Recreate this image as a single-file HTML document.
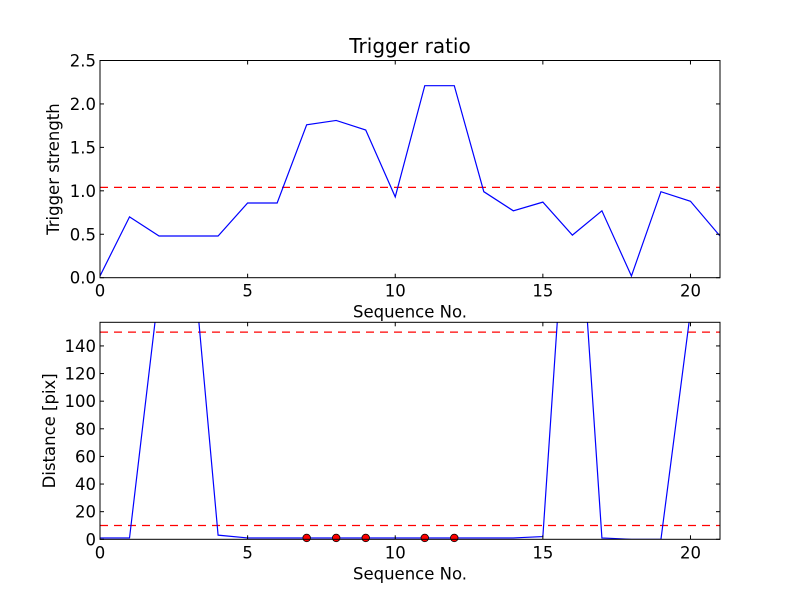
<!DOCTYPE html>
<html><head><meta charset="utf-8"><style>
body{margin:0;background:#fff}
svg text{font-family:"DejaVu Sans","Liberation Sans",sans-serif;font-size:16.5px;fill:#000}
</style></head><body>
<svg id="c" width="800" height="600" xmlns="http://www.w3.org/2000/svg"></svg>
<script>
const seq = [0,1,2,3,4,5,6,7,8,9,10,11,12,13,14,15,16,17,18,19,20,21];
const strength = [0.02,0.70,0.48,0.48,0.48,0.86,0.86,1.76,1.81,1.70,0.93,2.21,2.21,0.99,0.77,0.87,0.49,0.77,0.02,0.99,0.88,0.48];
const strengthThreshold = 1.04;
const distance = [1,1,182,240,3,1,1,1,1,1,1,1,1,1,1,2,320,1,0,0,165,165];
const distThresholds = [150,10];
const markerSeq = [7,8,9,11,12];
const markerVals = [1,1,1,1,1];
const xTicks = [0,5,10,15,20];
const yTicksTop = [0.0,0.5,1.0,1.5,2.0,2.5];
const yTicksBot = [0,20,40,60,80,100,120,140];

const NS="http://www.w3.org/2000/svg";
const svg=document.getElementById('c');
function mk(tag,attrs,parent){const e=document.createElementNS(NS,tag);for(const k in attrs)e.setAttribute(k,attrs[k]);(parent||svg).appendChild(e);return e;}
const L=100,R=720;
const xs=v=>L+(v-0)/(21-0)*(R-L);

function panel(top,bot,ymax,name){
  const ys=v=>bot-v/ymax*(bot-top);
  const g=mk('g',{});
  
  
  const cid='clip-'+name;
  const cp=mk('clipPath',{id:cid},g);mk('rect',{x:L,y:top,width:R-L,height:bot-top},cp);
  return {g,ys,cid,top,bot};
}
function axesFrame(p,yt,fmt,ylabel,ylabName){
  const {g,ys,top,bot}=p;
  const fr=mk('rect',{x:L,y:top,width:R-L,height:bot-top,fill:'none',stroke:'#000','stroke-width':1},g);
  
  
  xTicks.forEach(t=>{
    const x=xs(t);
    mk('line',{x1:x,y1:bot,x2:x,y2:bot-4,stroke:'#000'},g);
    mk('line',{x1:x,y1:top,x2:x,y2:top+4,stroke:'#000'},g);
    const tx=mk('text',{x:x,y:bot+19,'text-anchor':'middle'},g);tx.textContent=t;
    
    
  });
  yt.forEach(t=>{
    const y=ys(t);
    mk('line',{x1:L,y1:y,x2:L+4,y2:y,stroke:'#000'},g);
    mk('line',{x1:R,y1:y,x2:R-4,y2:y,stroke:'#000'},g);
    const ty=mk('text',{x:L-4,y:y+6,'text-anchor':'end'},g);ty.textContent=fmt(t);
    
    
  });
  const xl=mk('text',{x:(L+R)/2,y:bot+40,'text-anchor':'middle'},g);xl.textContent='Sequence No.';
  
  
  const cy=(top+bot)/2;
  const yl=mk('text',{x:0,y:0,'text-anchor':'middle',transform:`translate(${ylabName==='top'?59:55},${cy}) rotate(-90)`},g);yl.textContent=ylabel;
  
  
}

// top panel
const p1=panel(60.5,277.7,2.5,'strength-panel');
const h1=mk('line',{x1:L,x2:R,y1:p1.ys(strengthThreshold),y2:p1.ys(strengthThreshold),stroke:'#f00','stroke-dasharray':'8,6','stroke-width':1.2},p1.g);


const l1=mk('polyline',{points:seq.map((s,i)=>xs(s)+','+p1.ys(strength[i])).join(' '),fill:'none',stroke:'#00f','stroke-width':1.2,'clip-path':`url(#${p1.cid})`},p1.g);


axesFrame(p1,yTicksTop,t=>t.toFixed(1),'Trigger strength','top');
const title=mk('text',{x:410,y:53,'text-anchor':'middle'});title.textContent='Trigger ratio';
title.style.fontSize='20px';



// bottom panel
const p2=panel(322.3,539.3,157.1,'distance-panel');
distThresholds.forEach(v=>{
  const h=mk('line',{x1:L,x2:R,y1:p2.ys(v),y2:p2.ys(v),stroke:'#f00','stroke-dasharray':'8,6','stroke-width':1.2},p2.g);
  
  
});
const l2=mk('polyline',{points:seq.map((s,i)=>xs(s)+','+p2.ys(distance[i])).join(' '),fill:'none',stroke:'#00f','stroke-width':1.2,'clip-path':`url(#${p2.cid})`},p2.g);


markerSeq.forEach((s,i)=>{
  const c=mk('circle',{cx:xs(s),cy:p2.ys(markerVals[i]),r:3.8,fill:'#f00',stroke:'#000','stroke-width':0.8},p2.g);
  
  
});
axesFrame(p2,yTicksBot,t=>String(t),'Distance [pix]','bot');
</script>
</body></html>
